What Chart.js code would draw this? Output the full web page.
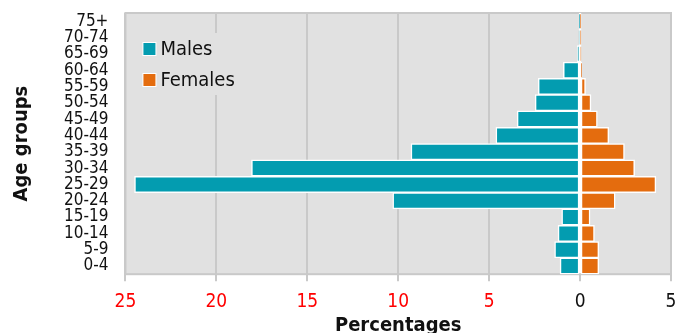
<!DOCTYPE html>
<html>
<head>
<meta charset="utf-8">
<script src="https://cdn.jsdelivr.net/npm/chart.js@4/dist/chart.umd.min.js"></script>
<style>
  html, body { margin: 0; padding: 0; background: #fff; }
  #wrap { width: 677px; height: 333px; }
</style>
</head>
<body>
<div id="wrap"><canvas id="chart" width="677" height="333"></canvas></div>
<script>
const FONT = "'Liberation Sans Narrow', 'DejaVu Sans Condensed', 'Roboto', sans-serif";

// bottom to top
const ageGroups = ["0-4", "5-9", "10-14", "15-19", "20-24", "25-29", "30-34", "35-39",
  "40-44", "45-49", "50-54", "55-59", "60-64", "65-69", "70-74", "75+"];
const males = [1.1, 1.4, 1.21, 1.01, 10.3, 24.5, 18.07, 9.3, 4.63, 3.46, 2.47, 2.3, 0.92, 0.15, 0.05, 0.02];
const females = [1.03, 1.03, 0.79, 0.55, 1.93, 4.17, 3.0, 2.44, 1.58, 0.95, 0.6, 0.3, 0.1, 0.03, 0.02, 0.01];
const xTicks = [-25, -20, -15, -10, -5, 0, 5];

const MALE_COLOR = "#039cb0";
const FEMALE_COLOR = "#e46c0e";
const PLOT_BG = "#e1e1e1";
const GRID = "#c9c9c9";

const plotFrame = {
  id: "plotFrame",
  beforeDraw(chart) {
    const { ctx, chartArea: a } = chart;
    ctx.save();
    ctx.fillStyle = PLOT_BG;
    ctx.fillRect(a.left, a.top, a.right - a.left, a.bottom - a.top);
    ctx.restore();
  },
  beforeDatasetsDraw(chart) {
    const { ctx, chartArea: a } = chart;
    ctx.save();
    ctx.strokeStyle = GRID;
    ctx.lineWidth = 2;
    ctx.strokeRect(a.left, a.top, a.right - a.left, a.bottom - a.top);

    // legend box inside the plot
    ctx.fillStyle = PLOT_BG;
    ctx.fillRect(a.left + 14, a.top + 20, 96, 62);
    const items = [["Males", MALE_COLOR], ["Females", FEMALE_COLOR]];
    ctx.font = "20px " + FONT;
    ctx.textBaseline = "middle";
    items.forEach(([label, color], i) => {
      const cy = a.top + 36 + i * 31;
      ctx.fillStyle = "#fff";
      ctx.fillRect(a.left + 17, cy - 7, 14, 14);
      ctx.fillStyle = color;
      ctx.fillRect(a.left + 18, cy - 6, 12, 12);
      ctx.fillStyle = "#111";
      ctx.fillText(label, a.left + 35, cy + 1);
    });
    ctx.restore();
  },
};

new Chart(document.getElementById("chart"), {
  type: "bar",
  data: {
    labels: ageGroups,
    datasets: [
      {
        label: "Males",
        data: males.map((v) => -v),
        backgroundColor: MALE_COLOR,
        borderColor: "#fff",
        borderWidth: 1.5,
        borderSkipped: false,
      },
      {
        label: "Females",
        data: females,
        backgroundColor: FEMALE_COLOR,
        borderColor: "#fff",
        borderWidth: 1.5,
        borderSkipped: false,
      },
    ],
  },
  options: {
    indexAxis: "y",
    responsive: false,
    animation: false,
    datasets: { bar: { barPercentage: 1, categoryPercentage: 1 } },
    layout: { padding: { left: 10, right: 0, top: 13, bottom: -5 } },
    scales: {
      x: {
        stacked: true,
        min: -25,
        max: 5,
        afterBuildTicks(scale) { scale.ticks = xTicks.map((value) => ({ value })); },
        afterFit(scale) { scale.paddingLeft = 0; scale.paddingRight = 6; },
        grid: {
          color: (c) => (c.tick && c.tick.value === 0 ? "#ffffff" : GRID),
          lineWidth: 2,
          tickColor: GRID,
          tickLength: 7,
        },
        border: { display: false },
        ticks: {
          callback: (v) => String(Math.abs(v)),
          color: (c) => (c.tick.value < 0 ? "#ff0000" : "#111"),
          font: { family: FONT, size: 19 },
          padding: 9,
          maxRotation: 0,
        },
        title: {
          display: true,
          text: "Percentages",
          color: "#111",
          font: { family: FONT, size: 20, weight: "bold" },
          padding: { top: -8, bottom: 0 },
        },
      },
      y: {
        stacked: true,
        reverse: true,
        afterFit(scale) { scale.paddingTop = 0; scale.paddingBottom = 0; },
        grid: { display: false },
        border: { display: false },
        ticks: {
          color: "#111",
          font: { family: FONT, size: 17 },
          padding: 9,
          autoSkip: false,
        },
        title: {
          display: true,
          text: "Age groups",
          color: "#111",
          font: { family: FONT, size: 20, weight: "bold" },
          padding: { top: 0, bottom: 21 },
        },
      },
    },
    plugins: {
      legend: { display: false },
      tooltip: { enabled: false },
    },
  },
  plugins: [plotFrame],
});
</script>
</body>
</html>
